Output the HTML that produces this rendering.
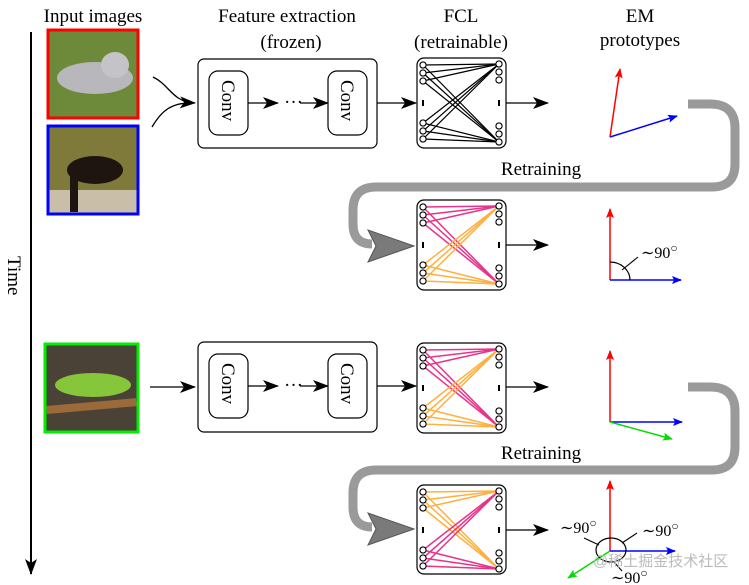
<!DOCTYPE html>
<html><head><meta charset="utf-8"><style>
html,body{margin:0;padding:0;background:#fff;}
svg{display:block;font-family:"Liberation Serif",serif;}
</style></head><body>
<svg width="749" height="585" viewBox="0 0 749 585" xmlns="http://www.w3.org/2000/svg">
<defs>
<marker id="ah" markerWidth="10" markerHeight="8" refX="9" refY="4" orient="auto" markerUnits="userSpaceOnUse"><path d="M0,0 L10,4 L0,8 L3,4 Z" fill="#000"/></marker>
<marker id="ahb" markerWidth="16" markerHeight="12" refX="15" refY="6" orient="auto" markerUnits="userSpaceOnUse"><path d="M0,0 L16,6 L0,12 L4,6 Z" fill="#000"/></marker>
<marker id="ar" markerWidth="10" markerHeight="8" refX="9" refY="4" orient="auto" markerUnits="userSpaceOnUse"><path d="M0,0 L10,4 L0,8 L2,4 Z" fill="#f00"/></marker>
<marker id="ab" markerWidth="10" markerHeight="8" refX="9" refY="4" orient="auto" markerUnits="userSpaceOnUse"><path d="M0,0 L10,4 L0,8 L2,4 Z" fill="#00f"/></marker>
<marker id="ag" markerWidth="10" markerHeight="8" refX="9" refY="4" orient="auto" markerUnits="userSpaceOnUse"><path d="M0,0 L10,4 L0,8 L2,4 Z" fill="#0d0"/></marker>
<g id="nodes" fill="#fff" stroke="#000" stroke-width="1.1">
<circle cx="6" cy="7" r="3.1"/><circle cx="6" cy="15" r="3.1"/><circle cx="6" cy="23" r="3.1"/>
<circle cx="6" cy="65" r="3.1"/><circle cx="6" cy="73" r="3.1"/><circle cx="6" cy="81" r="3.1"/>
<circle cx="82" cy="6" r="3.1"/><circle cx="82" cy="14" r="3.1"/><circle cx="82" cy="22" r="3.1"/>
<circle cx="82" cy="68" r="3.1"/><circle cx="82" cy="76" r="3.1"/><circle cx="82" cy="84" r="3.1"/>
<g fill="#000" stroke="none"><rect x="5" y="42" width="2" height="6"/><rect x="81" y="42" width="2" height="6"/></g>
</g>
</defs>

<g font-size="19" text-anchor="middle" fill="#000">
<text x="93" y="22">Input images</text>
<text x="287" y="22">Feature extraction</text>
<text x="291" y="48">(frozen)</text>
<text x="461" y="22">FCL</text>
<text x="461" y="48">(retrainable)</text>
<text x="640" y="22">EM</text>
<text x="640" y="46">prototypes</text>
<text x="541" y="175">Retraining</text>
<text x="541" y="459">Retraining</text>
</g>

<line x1="31" y1="32" x2="31" y2="574" stroke="#000" stroke-width="2" marker-end="url(#ahb)"/>
<text x="0" y="0" font-size="19" transform="translate(8,256) rotate(90)">Time</text>

<rect x="48" y="30" width="90" height="88" fill="#6d8a3a" stroke="#f00" stroke-width="3"/>
<ellipse cx="95" cy="78" rx="38" ry="16" fill="#b8b8bc"/>
<ellipse cx="115" cy="65" rx="14" ry="13" fill="#c4c4c8"/>
<rect x="48" y="126" width="90" height="88" fill="#7f7a3a" stroke="#00f" stroke-width="3"/>
<rect x="49.5" y="190" width="87" height="22.5" fill="#c9bfa8"/>
<ellipse cx="95" cy="170" rx="28" ry="14" fill="#1e1410"/>
<rect x="70" y="170" width="8" height="42" fill="#1e1410"/>
<rect x="45" y="344" width="93" height="88" fill="#4a4236" stroke="#0e0" stroke-width="3"/>
<ellipse cx="93" cy="385" rx="38" ry="12" fill="#86c63a"/>
<rect x="46.5" y="402" width="90" height="8" fill="#9a6a3a" transform="rotate(-5 92 406)"/>

<path d="M153,77 C170,85 172,102 195,103" fill="none" stroke="#000" stroke-width="1.3" marker-end="url(#ahb)"/>
<path d="M152,127 C162,110 172,103 190,103" fill="none" stroke="#000" stroke-width="1.3"/>

<g fill="none" stroke="#000" stroke-width="1.2">
<rect x="198" y="59" width="179" height="89" rx="6"/>
<rect x="209" y="71" width="39" height="64" rx="9"/>
<rect x="328" y="71" width="39" height="64" rx="9"/>
<rect x="198" y="342" width="179" height="90" rx="6"/>
<rect x="209" y="354" width="39" height="64" rx="9"/>
<rect x="328" y="354" width="39" height="64" rx="9"/>
</g>
<g font-size="19">
<text transform="translate(222,80) rotate(90)">Conv</text>
<text transform="translate(341,80) rotate(90)">Conv</text>
<text transform="translate(222,363) rotate(90)">Conv</text>
<text transform="translate(341,363) rotate(90)">Conv</text>
<text x="284" y="108">···</text>
<text x="284" y="391">···</text>
</g>
<g stroke="#000" stroke-width="1.2" marker-end="url(#ahb)">
<line x1="248" y1="103" x2="278" y2="103"/>
<line x1="300" y1="103" x2="328" y2="103"/>
<line x1="248" y1="386" x2="278" y2="386"/>
<line x1="300" y1="386" x2="328" y2="386"/>
<line x1="377" y1="103" x2="416" y2="103"/>
<line x1="377" y1="386" x2="416" y2="386"/>
<line x1="150" y1="387" x2="195" y2="387"/>
<line x1="506" y1="103" x2="548" y2="103"/>
<line x1="506" y1="245" x2="548" y2="245"/>
<line x1="506" y1="387" x2="548" y2="387"/>
<line x1="506" y1="530" x2="548" y2="530"/>
</g>

<g transform="translate(417,58)">
<rect x="0" y="0" width="89" height="90" rx="7" fill="#fff" stroke="#000" stroke-width="1.2"/>
<g stroke="#000" stroke-width="1.2">
<line x1="6" y1="7" x2="82" y2="6"/><line x1="6" y1="7" x2="82" y2="84"/>
<line x1="6" y1="15" x2="82" y2="6"/><line x1="6" y1="15" x2="82" y2="84"/>
<line x1="6" y1="23" x2="82" y2="6"/><line x1="6" y1="23" x2="82" y2="84"/>
<line x1="6" y1="65" x2="82" y2="6"/><line x1="6" y1="65" x2="82" y2="84"/>
<line x1="6" y1="73" x2="82" y2="6"/><line x1="6" y1="73" x2="82" y2="84"/>
<line x1="6" y1="81" x2="82" y2="6"/><line x1="6" y1="81" x2="82" y2="84"/>
</g>
<use href="#nodes"/>
</g>
<g transform="translate(417,200)">
<rect x="0" y="0" width="89" height="90" rx="7" fill="#fff" stroke="#000" stroke-width="1.2"/>
<g stroke="#e8338a" stroke-width="1.5">
<line x1="6" y1="7" x2="82" y2="6"/><line x1="6" y1="7" x2="82" y2="84"/>
<line x1="6" y1="15" x2="82" y2="6"/><line x1="6" y1="15" x2="82" y2="84"/>
<line x1="6" y1="23" x2="82" y2="6"/><line x1="6" y1="23" x2="82" y2="84"/>
</g>
<g stroke="#ffb040" stroke-width="1.5">
<line x1="6" y1="65" x2="82" y2="6"/><line x1="6" y1="65" x2="82" y2="84"/>
<line x1="6" y1="73" x2="82" y2="6"/><line x1="6" y1="73" x2="82" y2="84"/>
<line x1="6" y1="81" x2="82" y2="6"/><line x1="6" y1="81" x2="82" y2="84"/>
</g>
<use href="#nodes"/>
</g>
<g transform="translate(417,343)">
<rect x="0" y="0" width="89" height="90" rx="7" fill="#fff" stroke="#000" stroke-width="1.2"/>
<g stroke="#e8338a" stroke-width="1.5">
<line x1="6" y1="7" x2="82" y2="6"/><line x1="6" y1="7" x2="82" y2="84"/>
<line x1="6" y1="15" x2="82" y2="6"/><line x1="6" y1="15" x2="82" y2="84"/>
<line x1="6" y1="23" x2="82" y2="6"/><line x1="6" y1="23" x2="82" y2="84"/>
</g>
<g stroke="#ffb040" stroke-width="1.5">
<line x1="6" y1="65" x2="82" y2="6"/><line x1="6" y1="65" x2="82" y2="84"/>
<line x1="6" y1="73" x2="82" y2="6"/><line x1="6" y1="73" x2="82" y2="84"/>
<line x1="6" y1="81" x2="82" y2="6"/><line x1="6" y1="81" x2="82" y2="84"/>
</g>
<use href="#nodes"/>
</g>
<g transform="translate(417,485)">
<rect x="0" y="0" width="89" height="89" rx="7" fill="#fff" stroke="#000" stroke-width="1.2"/>
<g stroke="#ffb040" stroke-width="1.5">
<line x1="6" y1="7" x2="82" y2="6"/><line x1="6" y1="7" x2="82" y2="84"/>
<line x1="6" y1="15" x2="82" y2="6"/><line x1="6" y1="15" x2="82" y2="84"/>
<line x1="6" y1="23" x2="82" y2="6"/><line x1="6" y1="23" x2="82" y2="84"/>
</g>
<g stroke="#e8338a" stroke-width="1.5">
<line x1="6" y1="65" x2="82" y2="6"/><line x1="6" y1="65" x2="82" y2="84"/>
<line x1="6" y1="73" x2="82" y2="6"/><line x1="6" y1="73" x2="82" y2="84"/>
<line x1="6" y1="81" x2="82" y2="6"/><line x1="6" y1="81" x2="82" y2="84"/>
</g>
<use href="#nodes"/>
</g>

<g fill="none" stroke="#9a9a9a" stroke-width="9">
<path d="M688,104 H710 Q735,104 735,128 V164 Q735,187 712,187 H376 Q353,187 353,210 V224 Q353,244 372,244"/>
<path d="M688,387 H710 Q735,387 735,411 V447 Q735,470 712,470 H376 Q353,470 353,493 V507 Q353,527 372,527"/>
</g>
<path d="M414,246 L368,230 L376,246 L368,262 Z" fill="#7a7a7a" stroke="#555" stroke-width="1"/>
<path d="M414,529 L368,513 L376,529 L368,545 Z" fill="#7a7a7a" stroke="#555" stroke-width="1"/>

<line x1="610" y1="137" x2="620" y2="69" stroke="#f00" stroke-width="1.5" marker-end="url(#ar)"/>
<line x1="610" y1="137" x2="677" y2="116" stroke="#00f" stroke-width="1.5" marker-end="url(#ab)"/>
<line x1="610" y1="280" x2="610" y2="209" stroke="#f00" stroke-width="1.5" marker-end="url(#ar)"/>
<line x1="610" y1="280" x2="681" y2="280" stroke="#00f" stroke-width="1.5" marker-end="url(#ab)"/>
<path d="M610,262 A20,18 0 0 1 630,280" fill="none" stroke="#000" stroke-width="1.2"/>
<line x1="622" y1="270" x2="638" y2="257" stroke="#000" stroke-width="1.1"/>
<g font-size="16">
<text x="641" y="258">∼90<tspan font-size="12" dy="-6">○</tspan></text>
</g>
<line x1="610" y1="422" x2="610" y2="351" stroke="#f00" stroke-width="1.5" marker-end="url(#ar)"/>
<line x1="610" y1="422" x2="682" y2="422" stroke="#00f" stroke-width="1.5" marker-end="url(#ab)"/>
<line x1="610" y1="422" x2="672" y2="439" stroke="#0d0" stroke-width="1.5" marker-end="url(#ag)"/>
<line x1="610" y1="551" x2="610" y2="481" stroke="#f00" stroke-width="1.5" marker-end="url(#ar)"/>
<line x1="610" y1="551" x2="675" y2="551" stroke="#00f" stroke-width="1.5" marker-end="url(#ab)"/>
<line x1="610" y1="551" x2="568" y2="578" stroke="#0d0" stroke-width="1.5" marker-end="url(#ag)"/>
<ellipse cx="611" cy="550" rx="15" ry="12" fill="none" stroke="#000" stroke-width="1.2"/>
<line x1="584" y1="538" x2="599" y2="545" stroke="#000" stroke-width="1.1"/>
<line x1="622" y1="543" x2="637" y2="533" stroke="#000" stroke-width="1.1"/>
<line x1="614" y1="562" x2="622" y2="571" stroke="#000" stroke-width="1.1"/>
<g font-size="16">
<text x="560" y="533">∼90<tspan font-size="12" dy="-6">○</tspan></text>
<text x="642" y="536">∼90<tspan font-size="12" dy="-6">○</tspan></text>
<text x="611" y="583">∼90<tspan font-size="12" dy="-6">○</tspan></text>
</g>
<text x="593" y="566" font-size="15" fill="#bbb" font-family="'Liberation Sans','Noto Sans CJK SC',sans-serif">@稀土掘金技术社区</text>
</svg>
</body></html>
